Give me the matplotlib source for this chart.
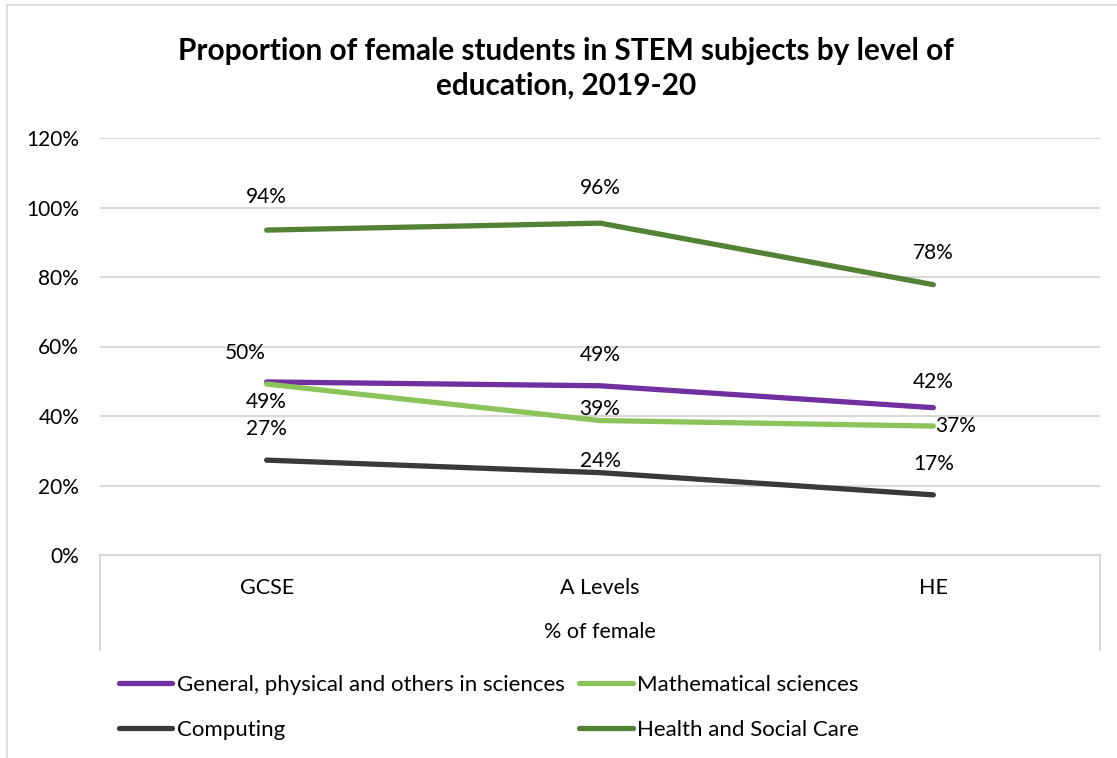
import matplotlib.pyplot as plt
from matplotlib.lines import Line2D

plt.rcParams['font.family'] = ['Lato', 'DejaVu Sans']

# data
levels = ["GCSE", "A Levels", "HE"]
general = [0.498, 0.487, 0.424]
maths = [0.492, 0.387, 0.371]
computing = [0.273, 0.237, 0.173]
health = [0.935, 0.955, 0.778]
y_ticks = [0, 0.2, 0.4, 0.6, 0.8, 1.0, 1.2]
y_tick_labels = ["0%", "20%", "40%", "60%", "80%", "100%", "120%"]

W, H = 1117, 758
fig = plt.figure(figsize=(W / 100, H / 100), dpi=100)
ax = fig.add_axes([100 / W, 1 - 555 / H, 1000 / W, (555 - 138) / H])
px = 1.2 / (555 - 138)  # data units per pixel on y

x = list(range(len(levels)))
series = [
    ("General, physical and others in sciences", general, "#7030A0"),
    ("Mathematical sciences", maths, "#8BC45A"),
    ("Computing", computing, "#3A3A3A"),
    ("Health and Social Care", health, "#548235"),
]
lines = {}
for name, vals, col in series:
    lines[name], = ax.plot(x, vals, color=col, lw=3.8, solid_capstyle="round", label=name, zorder=3)

# data labels, offsets in pixels
offsets = {
    "General, physical and others in sciences": [(-21, 29, "center"), (0, 31, "center"), (0, 26, "center")],
    "Mathematical sciences": [(0, -18, "center"), (0, 12, "center"), (2, 0, "left")],
    "Computing": [(0, 31, "center"), (0, 12, "center"), (0, 31, "center")],
    "Health and Social Care": [(0, 33, "center"), (0, 35, "center"), (0, 32, "center")],
}
for name, vals, col in series:
    for i, v in enumerate(vals):
        dx, dy, ha = offsets[name][i]
        ax.annotate(f"{round(v * 100):.0f}%", (i, v), xytext=(dx, dy),
                    textcoords="offset pixels", ha=ha, va="center",
                    fontsize=15, color="#000000", zorder=4)

ax.set_xlim(-0.5, 2.5)
ax.set_ylim(0, 1.2)
ax.set_yticks(y_ticks)
ax.set_yticklabels(y_tick_labels, fontsize=15)
ax.tick_params(axis="y", length=0, pad=15)
ax.set_xticks([])
ax.grid(axis="y", color="#D9D9D9", lw=1.5, zorder=0)
for s in ax.spines.values():
    s.set_visible(False)

# multi-level category axis
for i, lab in enumerate(levels):
    ax.text(i, -(588 - 555) * px, lab, ha="center", va="center", fontsize=15.5)
ax.text(1, -(632 - 555) * px, "% of female", ha="center", va="center", fontsize=15.5)
for xv in (-0.5, 2.5):
    ax.add_line(Line2D([xv, xv], [0, -(650 - 555) * px], color="#D9D9D9", lw=1.5, clip_on=False))
ax.add_line(Line2D([-0.5, 2.5], [0, 0], color="#D9D9D9", lw=1.5, clip_on=False))

# title
fig.text(566 / W, 1 - 68 / H, "Proportion of female students in STEM subjects by level of\neducation, 2019-20",
         ha="center", va="center", fontsize=21.4, fontweight="bold", linespacing=1.3)

# chart border (left and top edges)
fig.add_artist(Line2D([7 / W, 7 / W], [0, 1 - 5 / H], color="#D9D9D9", lw=1.2))
fig.add_artist(Line2D([7 / W, 1], [1 - 5 / H, 1 - 5 / H], color="#D9D9D9", lw=1.2))

# legend (row-wise order: matplotlib fills columns first)
order = ["General, physical and others in sciences", "Computing",
         "Mathematical sciences", "Health and Social Care"]
fig.legend([lines[n] for n in order], order, ncol=2, loc="upper left",
           bbox_to_anchor=(108 / W, 1 - 664 / H), frameon=False, fontsize=16,
           borderpad=0, handlelength=2.4, handletextpad=0.2, columnspacing=0.65,
           labelspacing=1.1)

fig.savefig("out.png", dpi=100)
